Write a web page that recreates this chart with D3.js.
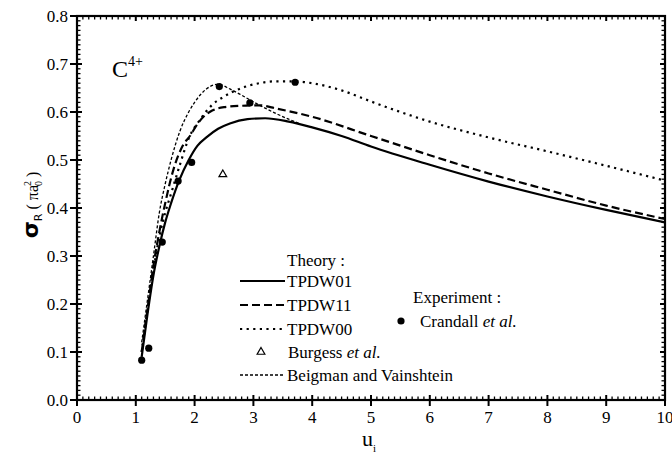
<!DOCTYPE html>
<html><head><meta charset="utf-8">
<script src="https://cdn.jsdelivr.net/npm/d3@7"></script>
<style>body{margin:0;background:#fff}svg{display:block}</style>
</head><body><svg id="c" width="672" height="456"></svg>
<script>
// ---- data ----
const xTicks = [0,1,2,3,4,5,6,7,8,9,10];
const yTicks = [0.0,0.1,0.2,0.3,0.4,0.5,0.6,0.7,0.8];
const tpdw01X = [1.1,1.2,1.3,1.4,1.5,1.6,1.74,1.9,2.05,2.2,2.4,2.6,2.9,3.2,3.6,4.0,4.5,5.0,6.0,7.0,8.0,9.0,10.0];
const tpdw01Y = [0.09,0.18,0.26,0.32,0.37,0.41,0.458,0.50,0.53,0.547,0.565,0.576,0.585,0.587,0.58,0.568,0.55,0.528,0.49,0.455,0.424,0.396,0.37];
const tpdw11X = [1.1,1.2,1.3,1.4,1.5,1.64,1.8,1.92,2.05,2.15,2.3,2.5,2.8,3.1,3.4,4.0,5.0,6.0,7.0,8.0,9.0,10.0];
const tpdw11Y = [0.10,0.19,0.28,0.35,0.41,0.48,0.53,0.55,0.575,0.59,0.603,0.61,0.613,0.614,0.607,0.59,0.55,0.51,0.472,0.438,0.405,0.377];
const tpdw00X = [1.1,1.2,1.3,1.4,1.5,1.6,1.75,1.9,2.1,2.3,2.5,2.8,3.1,3.4,3.7,4.0,4.5,5.0,5.5,6.0,7.0,8.0,9.0,10.0];
const tpdw00Y = [0.10,0.19,0.27,0.34,0.39,0.43,0.49,0.545,0.585,0.615,0.632,0.65,0.66,0.664,0.664,0.66,0.645,0.622,0.60,0.58,0.547,0.518,0.488,0.457];
const beigX = [1.1,1.2,1.3,1.4,1.5,1.6,1.75,1.9,2.0,2.2,2.4,2.6,2.8,3.0,3.2,3.4,3.6,3.8];
const beigY = [0.12,0.21,0.30,0.39,0.45,0.50,0.56,0.60,0.62,0.648,0.658,0.648,0.635,0.621,0.608,0.596,0.585,0.575];
const crandallX = [1.1,1.22,1.45,1.72,1.95,2.42,2.94,3.71];
const crandallY = [0.083,0.108,0.329,0.456,0.495,0.653,0.619,0.662];
const burgessX = [2.48];
const burgessY = [0.470];
const legendTheory = ["TPDW01","TPDW11","TPDW00","Burgess","Beigman and Vainshtein"];

// ---- layout ----
const FONT = "'Liberation Serif','Times New Roman','DejaVu Serif',serif";
const svg = d3.select("#c").attr("font-family",FONT);
const L=77,R=665,T=16,B=400;
const x = d3.scaleLinear().domain([0,10]).range([L,R]);
const y = d3.scaleLinear().domain([0,0.8]).range([B,T]);

const g = svg.append("g").attr("font-family",FONT);
const xMinor = d3.range(0,100).map(i=>i/10).filter(v=>Math.abs(v-Math.round(v))>1e-6);
const yMinor = d3.range(0,80).map(i=>i/100).filter(v=>Math.abs(v*10-Math.round(v*10))>1e-6);
const tk = g.append("g").attr("stroke","#000").attr("stroke-width",1.3);
xMinor.forEach(v=>{
  tk.append("line").attr("x1",x(v)).attr("x2",x(v)).attr("y1",B).attr("y2",B-3.5);
  tk.append("line").attr("x1",x(v)).attr("x2",x(v)).attr("y1",T).attr("y2",T+3.5);
});
yMinor.forEach(v=>{
  tk.append("line").attr("y1",y(v)).attr("y2",y(v)).attr("x1",L).attr("x2",L+3.5);
  tk.append("line").attr("y1",y(v)).attr("y2",y(v)).attr("x1",R).attr("x2",R-3.5);
});
const tkM = g.append("g").attr("stroke","#000").attr("stroke-width",2);
xTicks.forEach(v=>{
  tkM.append("line").attr("x1",x(v)).attr("x2",x(v)).attr("y1",B+6).attr("y2",B-5);
  tkM.append("line").attr("x1",x(v)).attr("x2",x(v)).attr("y1",T).attr("y2",T+5);
});
yTicks.forEach(v=>{
  tkM.append("line").attr("y1",y(v)).attr("y2",y(v)).attr("x1",L-7).attr("x2",L+5);
  tkM.append("line").attr("y1",y(v)).attr("y2",y(v)).attr("x1",R).attr("x2",R-5);
});
g.append("rect").attr("x",L).attr("y",T).attr("width",R-L).attr("height",B-T)
  .attr("fill","none").attr("stroke","#000").attr("stroke-width",2.2);

// tick labels
g.selectAll(".xl").data(xTicks).enter().append("text")
  .attr("x",d=>x(d)).attr("y",B+23).attr("text-anchor","middle").attr("font-size",17).text(d=>d);
g.selectAll(".yl").data(yTicks).enter().append("text")
  .attr("x",L-9).attr("y",d=>y(d)+6).attr("text-anchor","end").attr("font-size",17).text(d=>d.toFixed(1));

// axis titles
const xt = g.append("text").attr("x",x(5)-2).attr("y",446).attr("text-anchor","middle").attr("font-size",22);
xt.append("tspan").text("u");
xt.append("tspan").attr("font-size",11).attr("dy",6).text("i");

const yt = g.append("text").attr("transform","translate(38,205) rotate(-90)").attr("text-anchor","middle").attr("font-size",16);
yt.append("tspan").attr("font-family","DejaVu Sans").attr("font-weight","bold").attr("font-size",22).text("σ");
yt.append("tspan").attr("font-family","DejaVu Sans").attr("font-size",11).attr("dy",4).text("R");
yt.append("tspan").attr("dy",-4).text(" ( πa");
yt.append("tspan").attr("font-size",10).attr("dy",4).attr("dx",-1).text("0");
yt.append("tspan").attr("font-size",10).attr("dy",-11).attr("dx",-5).text("2");
yt.append("tspan").attr("dy",7).text(" )");

// C4+
const ct = g.append("text").attr("x",112).attr("y",77).attr("font-size",24);
ct.append("tspan").text("C");
ct.append("tspan").attr("font-size",14).attr("dy",-11).text("4+");

// curves
svg.append("clipPath").attr("id","clp").append("rect").attr("x",L).attr("y",T).attr("width",R-L).attr("height",B-T);
const line = d3.line().x(d=>x(d[0])).y(d=>y(d[1])).curve(d3.curveMonotoneX);
const cg = g.append("g").attr("clip-path","url(#clp)").attr("fill","none").attr("stroke","#000");
cg.append("path").datum(d3.zip(tpdw01X,tpdw01Y)).attr("d",line).attr("stroke-width",2.2);
cg.append("path").datum(d3.zip(tpdw11X,tpdw11Y)).attr("d",line).attr("stroke-width",2.2).attr("stroke-dasharray","8,4");
cg.append("path").datum(d3.zip(tpdw00X,tpdw00Y)).attr("d",line).attr("stroke-width",2.2).attr("stroke-dasharray","2.2,4.4");
cg.append("path").datum(d3.zip(beigX,beigY)).attr("d",line).attr("stroke-width",1.3).attr("stroke-dasharray","3,2");

// points
g.selectAll(".cr").data(d3.zip(crandallX,crandallY)).enter().append("circle")
  .attr("cx",d=>x(d[0])).attr("cy",d=>y(d[1])).attr("r",3.6).attr("fill","#000");
const tri = d3.symbol().type(d3.symbolTriangle).size(26);
g.selectAll(".bu").data(d3.zip(burgessX,burgessY)).enter().append("path")
  .attr("d",tri).attr("transform",d=>`translate(${x(d[0])},${y(d[1])})`)
  .attr("fill","#fff").attr("stroke","#000").attr("stroke-width",1.2);

// legend
const lg = g.append("g");
lg.append("text").attr("x",287).attr("y",266).attr("font-size",17).text("Theory :");
const ly = [281,305,329,352,375];
const dashes = [null,"8,4","2.2,4.4",null,"3,2"];
const widths = [2.2,2.2,2.2,0,1.3];
legendTheory.forEach((name,i)=>{
  if(i===3){
    lg.append("path").attr("d",tri).attr("transform",`translate(261,${ly[i]})`).attr("fill","#fff").attr("stroke","#000").attr("stroke-width",1.2);
    const t = lg.append("text").attr("x",288).attr("y",ly[i]+6).attr("font-size",17);
    t.append("tspan").text(name+" ");
    t.append("tspan").attr("font-style","italic").text("et al.");
  } else {
    const ln = lg.append("line").attr("x1",240).attr("x2",285).attr("y1",ly[i]).attr("y2",ly[i]).attr("stroke","#000").attr("stroke-width",widths[i]);
    if(dashes[i]) ln.attr("stroke-dasharray",dashes[i]);
    lg.append("text").attr("x",287).attr("y",ly[i]+6).attr("font-size",17).text(name);
  }
});
lg.append("text").attr("x",413).attr("y",303).attr("font-size",17).text("Experiment :");
lg.append("circle").attr("cx",401).attr("cy",321).attr("r",3.6).attr("fill","#000");
const ctx = lg.append("text").attr("x",420).attr("y",327).attr("font-size",17);
ctx.append("tspan").text("Crandall ");
ctx.append("tspan").attr("font-style","italic").text("et al.");
</script></body></html>
